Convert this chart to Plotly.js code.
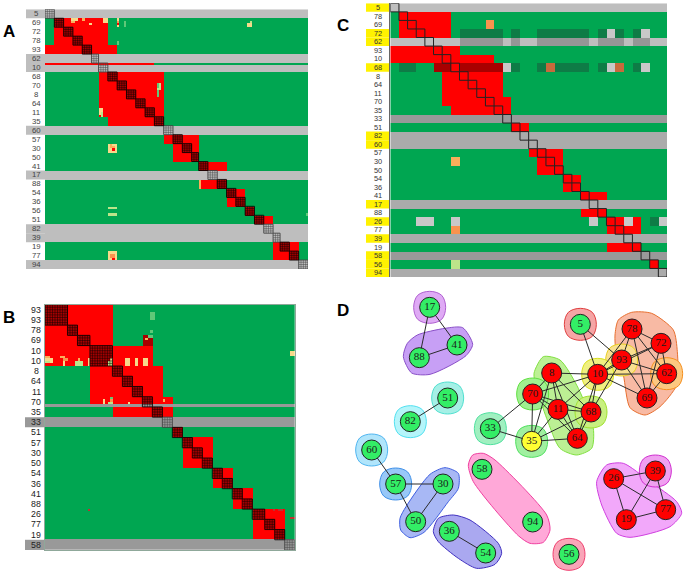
<!DOCTYPE html>
<html>
<head>
<meta charset="utf-8">
<script src="https://cdn.plot.ly/plotly-3.0.1.min.js"></script>
<style>html,body{margin:0;padding:0;background:#fff}#c{width:686px;height:574px}</style>
</head>
<body>
<div id="c"></div>
<script>
// palette indices
var G=0,R=1,L=2,M=3,D=4,DR=5,OR=6,TAN=7,PG=8,MG=9,DG=10,HG=11,HD=12,BR=13,LO=14,DD=15;
var palette=['#00A651','#FF0000','#BEBEBE','#ABABAB','#999999','#A80000','#F8934E','#F6D98A','#BCE48A','#5FC878','#0E7C46','#C8C8C8','#969696','#C86A3C','#F9AE5B','#C03030'];

// ---------- Panel A ----------
var aLabels=['5','69','72','78','93','62','10','68','70','8','64','11','35','60','57','30','50','41','17','88','54','36','56','51','82','39','19','77','94'];
var aWidths=[4,4,4,4,4,3,4,4,4,4,4,4,4,4,4,4,3,4,4,4,4,4,4,4,4,3,4,4,4];
var aBase=[L,G,G,G,G,L,L,G,G,G,G,G,G,L,G,G,G,G,L,G,G,G,G,G,L,L,G,G,L];
var aRed=[null,[4,27],[4,27],[4,27],[0,31],null,null,[23,51],[23,51],[23,51],[23,51],[23,51],[27,51],null,[51,66],[55,66],[55,66],[66,78],null,[66,78],[78,86],[78,86],null,[90,98],null,null,[98,109],[98,109],null];
// spots: subrow0, subrow1, col0, col1, colour
var aSpots=[[24,25,0,113,G],[24,25,0,47,R],
[4,5,11,14,TAN],[5,6,11,13,LO],[4,5,16,17,LO],[6,7,19,20,TAN],[4,6,25,27,TAN],[4,5,31,32,TAN],[5,6,31,32,OR],[6,7,31,32,R],[7,8,31,32,TAN],[5,8,34,35,MG],
[6,8,87,89,TAN],[5,6,88,89,PG],[14,16,31,32,MG],
[33,36,48,50,PG],[36,39,48,49,MG],[33,35,48,49,MG],
[44,47,23,25,TAN],[46,48,24,25,PG],
[60,64,27,31,TAN],[61,62,28,30,LO],[62,63,29,30,R],[60,61,28,29,LO],
[88,89,27,31,PG],[91,92,27,31,PG],[91,92,112,113,MG],
[76,80,66,67,LO],[108,112,27,31,TAN],[109,111,28,30,OR],[111,112,29,30,R]];
var aPatch=[[0,L],[5,L],[6,L],[13,L],[18,L],[24,L],[25,L],[28,L]];

// ---------- Panel B ----------
var bLabels=['93','93','78','69','10','10','8','64','11','70','35','33','51','57','30','50','54','36','41','88','26','77','19','58'];
var bBlocks=[[0,2,9],[2,1,4],[3,1,5],[4,2,9],[6,1,4],[7,1,4],[8,1,4],[9,1,4],[10,1,4],[11,1,4],[12,1,4],[13,1,4],[14,1,4],[15,1,4],[16,1,4],[17,1,4],[18,1,4],[19,1,4],[20,1,5],[21,1,4],[22,1,4],[23,1,4]];
var bBase=[G,G,G,G,G,G,G,G,G,G,G,D,G,G,G,G,G,G,G,G,G,G,G,D];
var bRed=[[0,27],[0,27],[0,27],[0,27],[0,43],[0,43],[18,47],[18,47],[18,47],[18,51],[27,51],null,null,[55,67],[55,67],[55,67],[67,75],[67,75],[75,83],[75,83],[83,96],[83,96],[83,96],null];
var bSpots=[[3,6,42,44,MG],[10,11,42,43,MG],[12,16,39,43,DR],[12,13,41,43,MG],[13,14,40,41,LO],
[20,21,0,2,LO],[21,23,0,3,TAN],[22,23,0,2,PG],[20,21,6,8,LO],[21,22,7,9,OR],[22,24,7,8,TAN],[22,24,12,15,PG],[21,22,13,14,LO],[21,24,17,18,TAN],[22,24,25,27,PG],[21,22,26,27,TAN],[21,24,32,34,TAN],[21,24,36,37,TAN],[21,24,39,41,TAN],
[18,20,98,100,TAN],[80,81,17,18,DD],[83,84,98,100,DD],[80,81,91,92,DD],[80,81,93,95,DD],
[37,39,23,24,TAN],[36,37,26,27,MG],[37,38,26,27,OR],[38,39,25,27,PG],[38,39,33,34,TAN],[38,39,39,41,G],[37,38,47,48,LO],
[39,40,0,100,D]];
var bPatch=[[11,D],[23,D]];

// ---------- Panel C ----------
var cLabels=['5','78','69','72','62','93','10','68','8','64','11','70','35','33','51','82','60','57','30','50','54','36','41','17','88','26','77','39','19','58','56','94'];
var cBase=[L,G,G,G,L,G,G,G,G,G,G,G,G,D,G,M,M,G,G,G,G,G,G,M,G,G,G,M,G,D,G,M];
var cRed=[null,[1,7],[1,7],[1,7],null,[0,8],[0,12],[7,8],[6,13],[6,13],[6,13],[6,14],[7,14],null,[14,16],null,null,[16,20],[17,20],[17,20],[20,22],[20,22],[22,25],null,[22,25],[25,29],[25,29],null,[25,29],null,[30,31],null];
var cSpots=[[2,3,11,12,OR],
[3,4,8,13,DG],[3,4,14,15,DG],[3,4,17,23,DG],[3,4,24,25,DG],[3,4,25,26,HG],[3,4,26,27,DG],[3,4,28,29,DG],[3,4,29,30,HG],
[4,5,8,13,HD],[4,5,14,15,HD],[4,5,17,23,HD],[4,5,24,27,HD],[4,5,28,30,HD],
[7,8,1,3,DG],[7,8,5,7,DR],[7,8,8,13,DR],[7,8,13,14,HG],[7,8,14,15,DG],[7,8,17,18,DG],[7,8,18,19,BR],[7,8,19,23,DG],[7,8,24,25,DG],[7,8,25,26,HG],[7,8,26,27,BR],[7,8,28,29,DG],[7,8,29,30,HG],
[18,19,7,8,LO],[25,26,3,5,HG],[25,26,7,8,HG],[25,26,23,24,HG],[25,26,27,28,HG],[25,26,30,31,DG],[25,26,31,32,HG],[26,27,7,8,OR],[30,31,7,8,PG]];
var cPatch=[0,3,4,7,15,16,23,25,27,29,30,31];

// ---------- Panel D (network) ----------
var nodeNames=['17','88','41','51','82','60','57','30','50','36','54','58','94','56','33','35','70','8','11','68','64','10','5','78','72','93','62','69','26','39','19','77'];
var nodeX=[299,268,381,353,241,125,197,339,257,358,467,456,608,717,481,605,608,665,684,783,742,803,751,906,993,875,1010,951,851,976,889,1007];
var nodeY=[67,218,180,339,410,495,597,597,710,739,804,553,711,808,431,469,327,264,373,381,460,268,118,132,175,225,266,339,581,558,704,674];
var nodeKinds=['g','g','g','g','g','g','g','g','g','g','g','g','g','g','g','y','r','r','r','r','r','r','g','r','r','r','r','r','r','r','r','r'];
var edges=[['17','88'],['17','41'],['88','41'],['51','82'],['60','57'],['57','30'],['57','50'],['30','50'],['36','54'],['33','70'],['33','35'],['35','70'],['35','8'],['35','11'],['35','68'],['35','64'],['70','8'],['70','11'],['70','68'],['70','64'],['70','10'],['8','11'],['8','68'],['8','64'],['8','10'],['11','68'],['11','64'],['11','10'],['68','64'],['68','10'],['68','93'],['64','10'],['10','93'],['10','5'],['5','93'],['10','78'],['10','72'],['10','62'],['10','69'],['93','78'],['93','72'],['93','62'],['93','69'],['78','72'],['78','62'],['78','69'],['72','62'],['72','69'],['62','69'],['26','39'],['26','19'],['26','77'],['39','19'],['39','77'],['19','77']];
// free-form group outlines: vertices, fill, line
var hullPolys=[
 [[220,232,262,345,398,428,408,300,245],[215,175,150,130,128,178,212,268,264],'#C79FF5','#8A50C8'],
 [[210,228,300,345,385,385,355,282,240,212],[700,665,568,548,565,610,650,742,758,735],'#A8B8F5','#4060E0'],
 [[310,325,370,420,505,515,495,440,385,325],[740,700,690,705,775,805,838,850,820,770],'#AAA8F0','#4030C0'],
 [[415,428,460,495,650,660,640,600,565,430],[540,510,505,525,690,735,772,775,752,590],'#FFA8D8','#F040A0'],
 [[855,865,905,965,1030,1042,1040,990,945,900,880,858],[150,105,82,85,135,200,300,365,390,368,270,200],'#F8BAA4','#E87030'],
 [[612,640,690,745,790,785,740,690,650,620],[265,215,225,310,430,490,510,490,400,310],'#BCF094','#80E040'],
 [[800,830,880,960,1040,1055,1020,900,860,815],[590,540,535,590,650,685,725,757,745,660],'#F2A8FA','#D040E0']];
// one-node groups: node name, fill, line
var hullSingles=[['17','#DFAAF5','#B060D0'],['51','#A5F0E6','#50E0D0'],['82','#B5F5FA','#50E0F0'],['60','#B0E5FB','#50B5F0'],['57','#98C8F8','#4090E8'],['56','#F9A5B8','#F04070'],['5','#F5A5A5','#E04040'],['62','#FDC880','#F59020'],['93','#F9E090','#E8D020'],['10','#F0F080','#D8E020'],['68','#C8F080','#A0E030'],['70','#A0F090','#60E040'],['35','#A0F0A0','#50E060'],['33','#A0F0C0','#50E0A0'],['39','#F0A0F0','#D030D0']];

// ---------- page geometry ----------
var W=686,H=574;
function dx(a,b){return [a/W,b/W];}
function dy(a,b){return [1-b/H,1-a/H];}

var traces=[],shapes=[],annotations=[];
var scale=[];
palette.forEach(function(c,i){scale.push([i/palette.length,c]);scale.push([(i+1)/palette.length,c]);});

function fillRect(z,r0,r1,c0,c1,v){for(var r=r0;r<r1;r++)for(var c=c0;c<c1;c++)z[r][c]=v+0.5;}
function blank(nr,nc,v){var z=[];for(var r=0;r<nr;r++){var a=[];for(var c=0;c<nc;c++)a.push(v);z.push(a);}return z;}
function heat(z,xa,ya){traces.push({type:'heatmap',z:z,x0:0.5,dx:1,y0:0.5,dy:1,xaxis:xa,yaxis:ya,colorscale:scale,zmin:0,zmax:palette.length,showscale:false,hoverinfo:'skip',zsmooth:false});}
function addLines(xs,ys,xa,ya,col,w){traces.push({type:'scatter',mode:'lines',x:xs,y:ys,xaxis:xa,yaxis:ya,line:{color:col,width:w},hoverinfo:'skip',connectgaps:false});}
// list entries: [x0,y0,nx,ny]; inner subcell lines thin, outer box stronger
function gridLines(list,xa,ya,col,innerW,outerW){
  var ix=[],iy=[],ox=[],oy=[];
  list.forEach(function(b){
    for(var i=1;i<b[2];i++){ix.push(b[0]+i,b[0]+i,null);iy.push(b[1],b[1]+b[3],null);}
    for(var j=1;j<b[3];j++){ix.push(b[0],b[0]+b[2],null);iy.push(b[1]+j,b[1]+j,null);}
    ox.push(b[0],b[0]+b[2],b[0]+b[2],b[0],b[0],null);
    oy.push(b[1],b[1],b[1]+b[3],b[1]+b[3],b[1],null);
  });
  if(ix.length)addLines(ix,iy,xa,ya,col,innerW);
  addLines(ox,oy,xa,ya,col,outerW);
}
function rowLabels(labels,per,yaName,cx,size,col){
  labels.forEach(function(t,i){annotations.push({text:t,xref:'paper',yref:yaName,x:cx/W,y:per*i+per/2,xanchor:'center',yanchor:'middle',showarrow:false,borderpad:0,borderwidth:0,font:{family:'Liberation Sans',size:size,color:col}});});
}
function patch(yaName,y0,y1,px0,px1,col){shapes.push({type:'rect',xref:'paper',yref:yaName,x0:px0/W,x1:px1/W,y0:y0,y1:y1,fillcolor:col,line:{width:0},layer:'below'});}

// ---- A ----
(function(){
  var nc=113,nr=aLabels.length*4,z=blank(nr,nc,G+0.5),x=0,on=[],off=[];
  aLabels.forEach(function(t,i){
    fillRect(z,i*4,i*4+4,0,nc,aBase[i]);
    if(aRed[i])fillRect(z,i*4,i*4+4,aRed[i][0],aRed[i][1],R);
  });
  aSpots.forEach(function(s){fillRect(z,s[0],s[1],s[2],s[3],s[4]);});
  aLabels.forEach(function(t,i){
    if(aBase[i]===G)fillRect(z,i*4,i*4+4,x,x+aWidths[i],DR);
    (aBase[i]===G?on:off).push([x,i*4,aWidths[i],4]);
    x+=aWidths[i];
  });
  heat(z,'x','y');
  gridLines(off,'x','y','#444',0.5,0.9);
  gridLines(on,'x','y','#100000',0.5,0.9);
  aPatch.forEach(function(p){patch('y',p[0]*4,p[0]*4+4,26,45,palette[p[1]]);});
  rowLabels(aLabels,4,'y',36,7.8,'#444');
})();

// ---- B ----
(function(){
  var nc=100,nr=bLabels.length*4,z=blank(nr,nc,G+0.5),on=[],off=[],x=0;
  bLabels.forEach(function(t,i){
    fillRect(z,i*4,i*4+4,0,nc,bBase[i]);
    if(bRed[i])fillRect(z,i*4,i*4+4,bRed[i][0],bRed[i][1],R);
  });
  bSpots.forEach(function(s){if(s[3]-s[2]===nc)return;fillRect(z,s[0],s[1],s[2],s[3],s[4]);});
  bBlocks.forEach(function(b){
    if(bBase[b[0]]===G)fillRect(z,b[0]*4,(b[0]+b[1])*4,x,x+b[2],DR);
    (bBase[b[0]]===G?on:off).push([x,b[0]*4,b[2],b[1]*4]);
    x+=b[2];
  });
  bSpots.forEach(function(s){if(s[3]-s[2]===nc)fillRect(z,s[0],s[1],s[2],s[3],s[4]);});
  // small spots that lie on top of the diagonal block of row 10
  [[22,24,25,27,PG],[21,22,26,27,TAN]].forEach(function(s){fillRect(z,s[0],s[1],s[2],s[3],s[4]);});
  heat(z,'x2','y2');
  gridLines(off,'x2','y2','#444',0.5,0.9);
  gridLines(on,'x2','y2','#100000',0.5,0.9);
  bPatch.forEach(function(p){patch('y2',p[0]*4,p[0]*4+4,25,45,palette[p[1]]);});
  rowLabels(bLabels,4,'y2',36,8.8,'#222');
})();

// ---- C ----
(function(){
  var n=cLabels.length,z=blank(n,n,G+0.5),diag=[];
  cLabels.forEach(function(t,i){
    fillRect(z,i,i+1,0,n,cBase[i]);
    if(cRed[i])fillRect(z,i,i+1,cRed[i][0],cRed[i][1],R);
    diag.push([i,i,1,1]);
  });
  cSpots.forEach(function(s){fillRect(z,s[0],s[1],s[2],s[3],s[4]);});
  heat(z,'x3','y3');
  gridLines(diag,'x3','y3','#222',1,1);
  cPatch.forEach(function(i){patch('y3',i,i+1,366,390,'#FFF200');});
  rowLabels(cLabels,1,'y3',377.7,7.4,'#333');
})();

// ---- D ----
function nodeIndex(n){return nodeNames.indexOf(n);}
function addHull(xs,ys,fill,line,sm){
  traces.push({type:'scatter',mode:'lines',x:xs.concat([xs[0]]),y:ys.concat([ys[0]]),xaxis:'x4',yaxis:'y4',fill:'toself',fillcolor:fill,line:{color:line,width:1,shape:'spline',smoothing:sm},hoverinfo:'skip'});
}
[4,5,6,0,1,2,3].forEach(function(i){var h=hullPolys[i];addHull(h[0],h[1],h[2],h[3],0.7);});
hullSingles.forEach(function(h){
  var k=nodeIndex(h[0]),cx=nodeX[k],cy=nodeY[k];
  var ox=[0,36,48,36,0,-36,-48,-36],oy=[-48,-36,0,36,48,36,0,-36];
  addHull(ox.map(function(v){return cx+v;}),oy.map(function(v){return cy+v;}),h[1],h[2],1);
});
(function(){
  var xs=[],ys=[];
  edges.forEach(function(e){var a=nodeIndex(e[0]),b=nodeIndex(e[1]);xs.push(nodeX[a],nodeX[b],null);ys.push(nodeY[a],nodeY[b],null);});
  traces.push({type:'scatter',mode:'lines',x:xs,y:ys,xaxis:'x4',yaxis:'y4',line:{color:'#2b2b2b',width:1},hoverinfo:'skip'});
  var colors={g:'#33EE66',r:'#FF0000',y:'#FFFF33'};
  traces.push({type:'scatter',mode:'markers+text',x:nodeX,y:nodeY,text:nodeNames,textposition:'middle center',xaxis:'x4',yaxis:'y4',cliponaxis:false,
    textfont:{family:'Liberation Serif',size:11,color:'#1a1a1a'},
    marker:{size:20,color:nodeKinds.map(function(k){return colors[k];}),line:{color:'#222',width:1}},hoverinfo:'skip'});
})();

// panel letters
[['A',9,31],['B',9,317],['C',343,26],['D',343,310]].forEach(function(p){
  annotations.push({text:p[0],xref:'paper',yref:'paper',x:p[1]/W,y:1-p[2]/H,xanchor:'center',yanchor:'middle',showarrow:false,font:{family:'Liberation Sans',size:17,color:'#000',weight:700}});
});

function ax(domain,range,extra){
  var o={domain:domain,range:range,showgrid:false,zeroline:false,showticklabels:false,ticks:'',fixedrange:true};
  if(extra)for(var k in extra)o[k]=extra[k];
  return o;
}
var layout={width:W,height:H,margin:{l:0,r:0,t:0,b:0},paper_bgcolor:'#fff',plot_bgcolor:'rgba(0,0,0,0)',showlegend:false,shapes:shapes,annotations:annotations,
  xaxis:ax(dx(45,308),[0,113],{anchor:'y'}),
  yaxis:ax(dy(9.3,269),[116,0],{anchor:'x'}),
  xaxis2:ax(dx(45,294.7),[0,100],{anchor:'y2',showline:true,mirror:true,linecolor:'#8FA89A',linewidth:1}),
  yaxis2:ax(dy(304.7,550),[96,0],{anchor:'x2',showline:true,mirror:true,linecolor:'#8FA89A',linewidth:1}),
  xaxis3:ax(dx(390.3,667),[0,32],{anchor:'y3'}),
  yaxis3:ax(dy(3.3,277),[32,0],{anchor:'x3',showline:true,linecolor:'#666',linewidth:1}),
  xaxis4:ax(dx(330,686),[0,1068],{anchor:'y4'}),
  yaxis4:ax(dy(285,574),[867,0],{anchor:'x4'})
};
Plotly.newPlot('c',traces,layout,{displayModeBar:false,staticPlot:true});
</script>
</body>
</html>
